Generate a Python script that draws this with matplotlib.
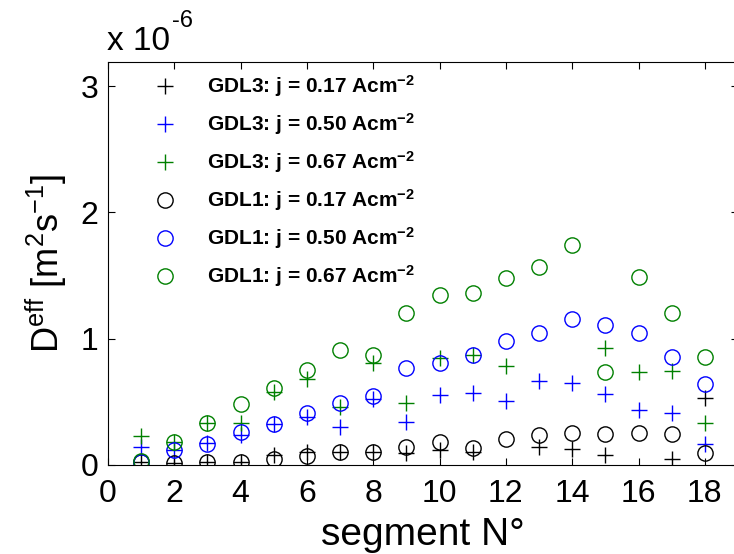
import numpy as np
import matplotlib
matplotlib.use("Agg")
import matplotlib.pyplot as plt

plt.rcParams['font.family'] = ['Liberation Sans', 'DejaVu Sans']
plt.rcParams['mathtext.fontset'] = 'custom'
plt.rcParams['mathtext.rm'] = 'Liberation Sans'
plt.rcParams['mathtext.it'] = 'Liberation Sans'
plt.rcParams['mathtext.bf'] = 'Liberation Sans:bold'

# segment number and effective diffusivity (units of 1e-6 m2/s)
segments = np.arange(1, 19)
nan = np.nan
gdl3_017 = [0.02, 0.013, 0.026, 0.02, 0.08, 0.10, 0.105, 0.10, 0.092, 0.12, 0.10, nan,
            0.145, 0.127, 0.079, nan, 0.045, 0.528]
gdl3_050 = [0.145, 0.115, 0.177, 0.237, 0.325, 0.383, 0.30, 0.52, 0.343, 0.554, 0.567, 0.507,
            0.665, 0.647, 0.562, 0.435, 0.409, 0.164]
gdl3_067 = [0.23, 0.18, 0.33, 0.335, 0.575, 0.68, 0.46, 0.81, 0.488, 0.845, 0.871, 0.786,
            nan, nan, 0.93, 0.734, 0.747, 0.33]
gdl1_017 = [0.026, 0.013, 0.026, 0.02, 0.047, 0.071, 0.105, 0.105, 0.14, 0.185, 0.137, 0.202,
            0.235, 0.257, 0.243, 0.257, 0.243, 0.092]
gdl1_050 = [0.026, 0.12, 0.17, 0.259, 0.325, 0.414, 0.488, 0.55, 0.765, 0.81, 0.871, 0.985,
            1.043, 1.158, 1.108, 1.043, 0.857, 0.639]
gdl1_067 = [0.034, 0.18, 0.33, 0.48, 0.61, 0.75, 0.91, 0.87, 1.20, 1.345, 1.364, 1.478,
            1.57, 1.74, 0.734, 1.49, 1.206, 0.857]

labels = ["GDL3: j = 0.17 Acm$^{\\mathbf{-2}}$",
          "GDL3: j = 0.50 Acm$^{\\mathbf{-2}}$",
          "GDL3: j = 0.67 Acm$^{\\mathbf{-2}}$",
          "GDL1: j = 0.17 Acm$^{\\mathbf{-2}}$",
          "GDL1: j = 0.50 Acm$^{\\mathbf{-2}}$",
          "GDL1: j = 0.67 Acm$^{\\mathbf{-2}}$"]

green = (0, 0.5, 0)
fig = plt.figure(figsize=(7.34, 5.54), dpi=100)
ax = fig.add_axes([108/734, 89/554, 630/734, 403/554])

ax.plot(segments, gdl3_017, '+', color='k', ms=12, mew=1.0, ls='none', label=labels[0])
ax.plot(segments, gdl3_050, '+', color='b', ms=12, mew=1.0, ls='none', label=labels[1])
ax.plot(segments, gdl3_067, '+', color=green, ms=12, mew=1.0, ls='none', label=labels[2])
ax.plot(segments, gdl1_017, 'o', mfc='none', mec='k', ms=11, mew=1.0, ls='none', label=labels[3])
ax.plot(segments, gdl1_050, 'o', mfc='none', mec='b', ms=11, mew=1.0, ls='none', label=labels[4])
ax.plot(segments, gdl1_067, 'o', mfc='none', mec=green, ms=11, mew=1.0, ls='none', label=labels[5])

ax.set_xlim(0, 19)
ax.set_ylim(0, 3.19)
ax.set_xticks(range(0, 19, 2))
ax.set_yticks([0, 1, 2, 3])
ax.tick_params(direction='in', length=5, width=0.8, top=True, right=True, labelsize=23)
ax.tick_params(axis='x', pad=10)
ax.tick_params(axis='y', pad=7)
for s in ax.spines.values():
    s.set_linewidth(0.8)

ax.set_xlabel("segment N°", fontsize=28, labelpad=6)
ax.set_ylabel("D$^{\\mathrm{eff}}$ [m$^2$s$^{-1}$]", fontsize=26, labelpad=8)

# MATLAB-style exponent label above the y axis
fig.text(107/734, 1 - 50/554, "x 10", fontsize=24, ha='left', va='baseline')
fig.text(172/734, 1 - 27/554, "-6", fontsize=17, ha='left', va='baseline')

ax.legend(loc='upper left', bbox_to_anchor=(0.074, 0.972), frameon=False,
          prop={'weight': 'bold', 'size': 15}, borderpad=0, handlelength=1.0,
          handletextpad=1.5, labelspacing=0.58, borderaxespad=0)

fig.savefig("out.png", dpi=100)
